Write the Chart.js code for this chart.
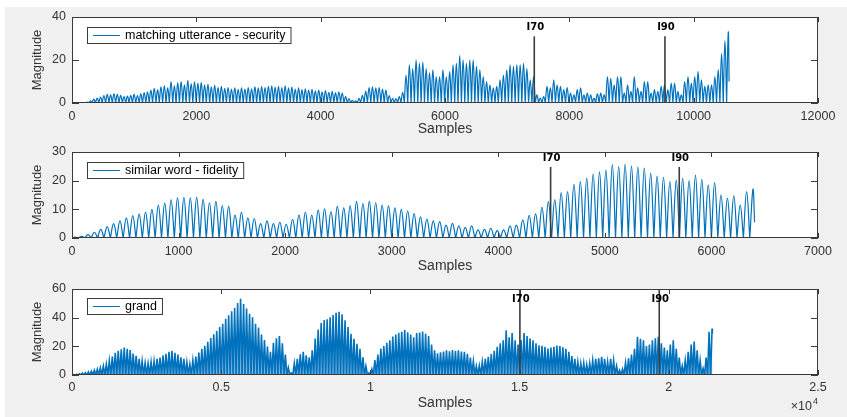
<!DOCTYPE html>
<html>
<head>
<meta charset="utf-8">
<script src="https://cdn.jsdelivr.net/npm/chart.js@4/dist/chart.umd.min.js"></script>
<style>
html, body { margin: 0; padding: 0; background: #fff; }
#fig { position: absolute; left: 5px; top: 7px; width: 842px; height: 410px; background: #f0f0f0; }
canvas { position: absolute; left: 0; }
</style>
</head>
<body>
<div id="fig"></div>
<canvas id="c1" width="847" height="138" style="top:0px"></canvas>
<canvas id="c2" width="847" height="137" style="top:138px"></canvas>
<canvas id="c3" width="847" height="142" style="top:275px"></canvas>
<script>
// peak of every lobe (one value per lobe)
var names = ['matching utterance - security', 'similar word - fidelity', 'grand'];
var markerNames = ['I70', 'I90'];

// panel 1: lobes every 54 samples
var step1 = 54;
var peaks1 = [
    0.1, 0.1, 0.1, 0.2, 0.4, 1, 1.8, 2.3, 2.8, 3.5,
    4, 3.8, 4.3, 4, 3.6, 3, 3.2, 3.6, 4, 3.5,
    4.2, 4.8, 5.2, 6, 6.8, 6.2, 7.5, 8, 7, 10,
    8, 9.5, 10, 8.5, 10.5, 9, 9.8, 9.2, 9.6, 8.5,
    8.8, 7.5, 8.2, 7.2, 7.8, 6.8, 7.2, 6.5, 7, 6.4,
    7, 6.5, 7.2, 6.6, 7.5, 7, 7.6, 7.2, 7.8, 8,
    7.4, 7.8, 7.2, 8, 7, 7.4, 6.5, 7, 6.2, 6.6,
    6, 6.4, 5.6, 6, 5.2, 5.8, 5, 5.4, 4.8, 5.2,
    4.6, 3, 2, 1.2, 1, 2.2, 3.6, 5.5, 7.2, 7.5,
    7, 7.2, 6.5, 6, 3.5, 2.2, 2, 3, 5, 13,
    17.7, 16, 20, 18.5, 19, 16, 14, 15.4, 12.3, 12.3,
    15.4, 12.3, 14.6, 17.7, 18.5, 22, 20, 18.5, 20, 20,
    17, 15.4, 12.3, 10, 8.5, 7, 7.7, 10.8, 13, 15.4,
    17.7, 17, 17.7, 17.7, 18.5, 16, 10.8, 12.3, 3.8, 2.3,
    3, 7.7, 7, 10.8, 8.5, 7.7, 6.2, 7.2, 4.6, 3.8,
    6.2, 7, 3.8, 4.6, 3.8, 2.3, 4.2, 4.6, 3.8, 12.3,
    11.5, 8.5, 12.3, 12.3, 4.6, 8.5, 5.4, 12.3, 7, 5.4,
    10, 10, 4.6, 6.2, 5.4, 7.7, 8.5, 6.2, 9.2, 9.2,
    5.4, 3.8, 10, 12.3, 9.2, 12.3, 14.6, 10.8, 7.7, 8.5,
    8.5, 12.3, 15.4, 23, 29, 33
];
var tail1 = [10570, 10];
var markers1 = [7436, 9538];
var markerTop1 = 31;

// panel 2: lobes every 60 samples
var step2 = 60;
var peaks2 = [
    0.3, 0.6, 1.2, 2, 3, 4, 5, 6, 7, 7.8,
    8.3, 9, 10, 11.5, 12.2, 13.3, 14, 14.2, 14, 14.2,
    13.5, 12.3, 12.8, 11.2, 11, 8, 9, 7, 6.8, 5,
    6, 5, 5.5, 4.8, 6.5, 8, 9, 8, 9.8, 10.2,
    9.2, 11, 10.5, 11.2, 12.8, 12, 12.8, 12.3, 11.5, 11.2,
    10.5, 10, 9.5, 8.5, 7.4, 6.6, 6, 5.7, 4.5, 5.1,
    4.2, 3.7, 4.2, 2.8, 3, 3.4, 2.6, 2.8, 4.2, 4.5,
    6.3, 7.9, 8.4, 10.7, 12.7, 13.3, 15.8, 16.2, 18.7, 19.7,
    20.8, 22.3, 23.1, 23.7, 25.6, 24.9, 25.8, 25.1, 24.7, 24.4,
    22.6, 21.6, 21.2, 19.7, 20.2, 20.8, 20, 21.9, 20.5, 18.5,
    19.3, 15, 13.8, 14.7, 11.5, 16.2, 17
];
var tail2 = [6405, 5.5];
var markers2 = [4491, 5698];
var markerTop2 = 24.8;

// panel 3: lobes every 100 samples
var step3 = 100;
var peaks3 = [
    0.3, 0.5, 0.8, 1.3, 1.6, 2.2, 2.6, 3.4, 4, 5,
    6.2, 7.6, 10, 12.8, 15.5, 16.8, 18, 19.2, 18.2, 17.4,
    15, 13.4, 11.2, 9.8, 8.4, 8.2, 9.2, 9.6, 11.2, 12.2,
    13.8, 14.8, 16.2, 16.8, 15.4, 14.2, 12.4, 11.2, 9, 7.6,
    10.2, 12.8, 15.6, 18.2, 20.4, 23.2, 25.8, 28.4, 30.6, 33.4,
    35.8, 39.2, 41.6, 44.4, 46.8, 50.2, 53.2, 49.6, 46.4, 42.8,
    40.2, 35.8, 33.2, 28.2, 24.4, 19.8, 16.2, 22.4, 25.6, 27.2,
    22.2, 14.2, 5.2, 1.5, 8.2, 11.2, 14.4, 16.2, 13.8, 12.4,
    17.2, 25.4, 31.8, 36.2, 38.4, 38.8, 40.2, 41.8, 43.4, 44.2,
    42.4, 38.2, 33.4, 28.8, 25.2, 21.8, 18.2, 12.4, 6.2, 1.5,
    4.2, 10.4, 14.2, 18.4, 20.2, 22.4, 24.2, 26.8, 28.2, 29.4,
    30.2, 31.6, 29.8, 28.2, 26.4, 29.2, 29.6, 30.4, 28.8, 27.2,
    21.2, 17.2, 15.2, 15.8, 16.4, 17.2, 16.6, 17.4, 16.8, 17.2,
    16.4, 16.2, 14.8, 12.2, 9.6, 6.2, 6.6, 9.2, 11.2, 12.6,
    14.6, 16.8, 19.6, 22.2, 24.2, 31.2, 26.4, 29.2, 24.2, 21.2,
    24.4, 29.2, 27.2, 25.4, 24.2, 22.2, 20.8, 20.4, 19.6, 18.4,
    19.2, 19.6, 20.6, 20.2, 19.4, 18.2, 16.2, 13.2, 11.2, 9.2,
    8.2, 8.4, 7.2, 8.2, 10.2, 11.2, 11.6, 12.6, 11.2, 9.2,
    11.2, 10.2, 6.2, 3.2, 4.2, 8.6, 11.6, 14.2, 18.2, 26.6,
    25.2, 24.2, 20.2, 21.2, 24.2, 25.6, 26.6, 22.2, 19.2, 17.2,
    21.2, 24.2, 18.2, 12.2, 6.2, 10.2, 16.2, 21.2, 23.4, 17.2,
    10.2, 4.6, 12.2, 30.2, 32.4
];
var tail3 = [21460, 29];
var markers3 = [15010, 19680];
var markerTop3 = 60;

var blue = '#0072BD';
var axisCol = '#3a3a3a';
var font = "'Liberation Sans', Arial, sans-serif";

// every lobe goes 0 -> peak -> 0, the zero is kept on both sides so the
// curve makes a sharp notch at the bottom and a round top
function lobePoints(peaks, step, tail) {
    var pts = [];
    peaks.forEach(function (p, i) {
        pts.push({ x: i * step, y: 0 });
        pts.push({ x: i * step + step / 2, y: p });
        if (i < peaks.length - 1) pts.push({ x: (i + 1) * step, y: 0 });
    });
    pts.push({ x: tail[0], y: tail[1] });
    return pts;
}

var matlabAxes = {
    id: 'matlabAxes',
    beforeDraw: function (chart) {
        var a = chart.chartArea, ctx = chart.ctx;
        ctx.save();
        ctx.fillStyle = '#fff';
        ctx.fillRect(a.left, a.top, a.right - a.left, a.bottom - a.top);
        ctx.restore();
    },
    afterDatasetsDraw: function (chart, args, opts) {
        var a = chart.chartArea, ctx = chart.ctx;
        var xs = chart.scales.x, ys = chart.scales.y;
        ctx.save();
        ctx.strokeStyle = axisCol;
        ctx.lineWidth = 1;
        ctx.beginPath();
        xs.ticks.forEach(function (t) {
            var px = Math.round(xs.getPixelForValue(t.value)) + 0.5;
            ctx.moveTo(px, a.bottom); ctx.lineTo(px, a.bottom - 5);
            ctx.moveTo(px, a.top); ctx.lineTo(px, a.top + 5);
        });
        ys.ticks.forEach(function (t) {
            var py = Math.round(ys.getPixelForValue(t.value)) + 0.5;
            ctx.moveTo(a.left, py); ctx.lineTo(a.left + 7, py);
            ctx.moveTo(a.right, py); ctx.lineTo(a.right - 7, py);
        });
        ctx.stroke();
        ctx.strokeRect(a.left + 0.5, a.top + 0.5, a.right - a.left - 1, a.bottom - a.top - 1);

        // marker labels
        ctx.fillStyle = '#000';
        ctx.font = "bold 10px 'DejaVu Sans', sans-serif";
        ctx.textAlign = 'center';
        ctx.textBaseline = 'middle';
        chart.data.datasets.forEach(function (ds) {
            if (!ds.isMarker) return;
            var px = xs.getPixelForValue(ds.data[1].x);
            var py = ys.getPixelForValue(ds.data[1].y);
            var ly = py - 8.5;
            if (ly < a.top + 4) ly = a.top + 10;
            ctx.fillText(ds.label, px + 1, ly);
        });

        // legend box
        var sig = chart.data.datasets.filter(function (ds) { return ds.isSignal; })[0];
        ctx.font = '12.5px ' + font;
        var tw = ctx.measureText(sig.label).width;
        var bx = a.left + 15, by = a.top + opts.legendDy, bh = 16;
        var bw = 38 + tw + 5;
        ctx.fillStyle = '#fff';
        ctx.fillRect(bx, by, bw, bh);
        ctx.strokeStyle = axisCol;
        ctx.strokeRect(bx + 0.5, by + 0.5, bw, bh);
        ctx.strokeStyle = blue;
        ctx.beginPath();
        ctx.moveTo(bx + 6, by + bh / 2 + 0.5);
        ctx.lineTo(bx + 33, by + bh / 2 + 0.5);
        ctx.stroke();
        ctx.fillStyle = '#000';
        ctx.textAlign = 'left';
        ctx.fillText(sig.label, bx + 38, by + bh / 2 + 1);

        // x10^4 exponent label
        if (opts.exponent) {
            ctx.fillStyle = '#333';
            ctx.textAlign = 'right';
            ctx.font = '9px ' + font;
            ctx.fillText(opts.exponent, a.right, a.bottom + 27);
            var ew = ctx.measureText(opts.exponent).width;
            ctx.font = '12.5px ' + font;
            ctx.fillText('\u00d710', a.right - ew - 1, a.bottom + 32);
        }
        ctx.restore();
    }
};

function makePanel(id, cfg) {
    var datasets = [];
    cfg.markers.forEach(function (m, i) {
        datasets.push({
            label: markerNames[i],
            isMarker: true,
            data: [{ x: m, y: 0 }, { x: m, y: cfg.markerTop }],
            borderColor: '#3c3c3c',
            borderWidth: 1.6,
            pointRadius: 0,
            order: 1
        });
    });
    datasets.push({
        label: cfg.name,
        isSignal: true,
        data: lobePoints(cfg.peaks, cfg.step, cfg.tail),
        borderColor: blue,
        borderWidth: cfg.lineWidth,
        backgroundColor: cfg.fill || 'transparent',
        fill: cfg.fill ? 'origin' : false,
        pointRadius: 0,
        tension: cfg.tension,
        order: 2
    });

    return new Chart(document.getElementById(id), {
        type: 'line',
        data: { datasets: datasets },
        options: {
            responsive: false,
            animation: false,
            events: [],
            layout: { padding: { top: cfg.padTop, right: 29, left: 0, bottom: 0 } },
            plugins: {
                legend: { display: false },
                tooltip: { enabled: false },
                filler: { propagate: false },
                matlabAxes: { legendDy: cfg.legendDy, exponent: cfg.exponent }
            },
            scales: {
                x: {
                    type: 'linear',
                    min: 0, max: cfg.xMax,
                    grid: { display: false, drawTicks: false },
                    border: { display: false },
                    afterFit: function (s) { s.height = cfg.xHeight; },
                    ticks: {
                        stepSize: cfg.xStep,
                        padding: cfg.tickPad,
                        maxRotation: 0,
                        color: '#333',
                        font: { family: font, size: 12.5 },
                        callback: cfg.xLabel || function (v) { return v; }
                    },
                    title: {
                        display: true, text: 'Samples', color: '#333',
                        font: { family: font, size: 14 },
                        padding: { top: 0, bottom: cfg.titlePad }
                    }
                },
                y: {
                    min: 0, max: cfg.yMax,
                    grid: { display: false, drawTicks: false },
                    border: { display: false },
                    afterFit: function (s) { s.width = 72; },
                    ticks: {
                        stepSize: cfg.yStep,
                        padding: 6,
                        color: '#333',
                        font: { family: font, size: 12.5 }
                    },
                    title: {
                        display: true, text: 'Magnitude', color: '#333',
                        font: { family: font, size: 13 },
                        padding: { top: 30, bottom: 0 }
                    }
                }
            }
        },
        plugins: [matlabAxes]
    });
}

makePanel('c1', {
    name: names[0], peaks: peaks1, step: step1, tail: tail1,
    lineWidth: 1.2, tension: 0.4,
    markers: markers1, markerTop: markerTop1,
    padTop: 17, xHeight: 35, xMax: 12000, xStep: 2000, yMax: 40, yStep: 20,
    tickPad: 6, titlePad: 0, legendDy: 10
});
makePanel('c2', {
    name: names[1], peaks: peaks2, step: step2, tail: tail2,
    lineWidth: 1.2, tension: 0.4,
    markers: markers2, markerTop: markerTop2,
    padTop: 14, xHeight: 37, xMax: 7000, xStep: 1000, yMax: 30, yStep: 10,
    tickPad: 6, titlePad: 0, legendDy: 10
});
makePanel('c3', {
    name: names[2], peaks: peaks3, step: step3, tail: tail3,
    lineWidth: 1.6, tension: 0, fill: 'rgba(40, 130, 200, 0.6)',
    markers: markers3, markerTop: markerTop3,
    padTop: 14, xHeight: 42, xMax: 25000, xStep: 5000, yMax: 60, yStep: 20,
    tickPad: 5, titlePad: 5, legendDy: 9, exponent: '4',
    xLabel: function (v) { return v / 10000; }
});
</script>
</body>
</html>
